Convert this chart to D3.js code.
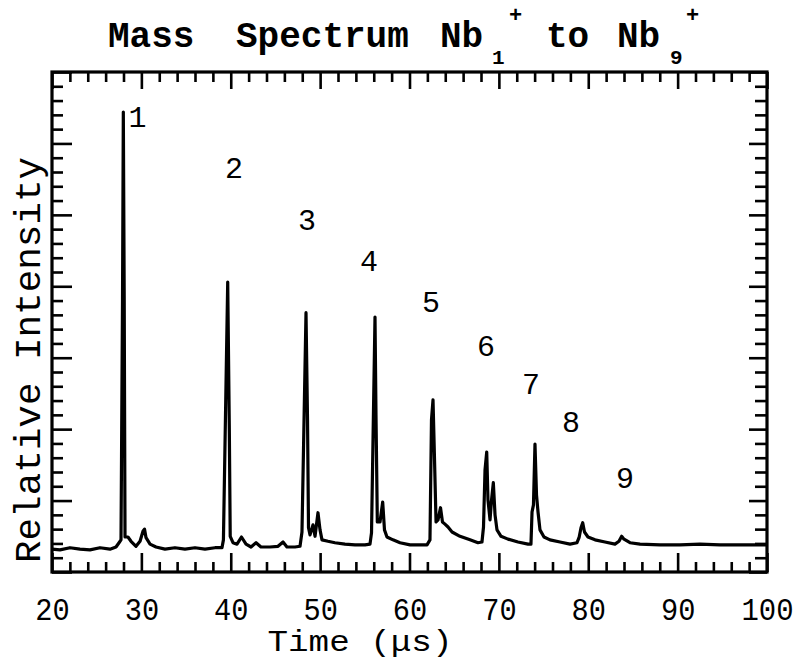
<!DOCTYPE html>
<html>
<head>
<meta charset="utf-8">
<script src="https://cdn.jsdelivr.net/npm/d3@7/dist/d3.min.js"></script>
<style>
  body{margin:0;background:#fff;}
  svg text{font-family:"Courier New","Nimbus Mono PS","FreeMono","Liberation Mono",monospace;fill:#000;}
</style>
</head>
<body>
<div id="canvas"></div>
<script>
//time of flight (us) of each point
var spectrumTime = [20.00,20.90,22.01,23.13,24.25,25.37,26.49,27.16,27.50,27.72,27.89,27.98,28.08,28.17,28.50,28.84,29.40,29.85,30.18,30.35,30.52,30.97,31.64,32.64,33.76,34.88,36.00,37.12,38.24,39.02,
  39.18,39.66,39.84,39.94,40.25,40.70,41.20,41.71,42.27,42.83,43.38,44.39,45.29,45.85,46.29,47.19,47.75,47.97,48.20,48.42,48.59,48.70,48.87,49.20,49.43,49.76,49.99,50.21,50.88,
  51.66,52.78,53.90,55.02,55.58,55.75,56.14,56.25,56.40,56.70,57.00,57.20,57.48,58.15,58.94,60.06,61.17,61.96,62.29,62.46,62.63,62.80,62.97,63.19,63.47,63.69,63.97,64.31,64.76,
  65.65,66.77,67.66,68.11,68.28,68.45,68.64,68.78,69.01,69.18,69.38,69.57,69.79,70.24,71.02,72.14,73.26,73.59,73.71,73.87,74.04,74.21,74.38,74.60,75.05,75.72,76.84,77.96,78.74,78.97,
  79.19,79.38,79.58,79.97,80.76,81.87,82.99,83.44,83.74,84.00,84.67,85.79,88.03,90.27,92.50,94.74,96.98,100.00];
//relative intensity at those times
var spectrumIntensity = [0.32,0.31,0.34,0.32,0.31,0.34,0.32,0.35,0.41,0.45,3.81,6.44,3.81,0.49,0.49,0.43,0.36,0.43,0.57,0.60,0.48,0.39,0.35,0.32,0.34,0.32,0.34,0.32,0.34,0.34,
  0.45,4.06,2.00,0.50,0.41,0.39,0.49,0.39,0.35,0.41,0.35,0.35,0.36,0.42,0.35,0.35,0.36,0.56,2.13,3.63,2.13,0.62,0.52,0.66,0.50,0.83,0.59,0.45,0.43,
  0.41,0.39,0.38,0.38,0.39,0.55,3.57,2.20,0.70,0.70,0.98,0.59,0.49,0.45,0.41,0.38,0.38,0.38,0.45,2.13,2.41,1.57,0.70,0.73,0.90,0.70,0.67,0.63,0.56,
  0.50,0.45,0.41,0.42,0.63,1.43,1.68,1.01,0.73,1.01,1.25,0.80,0.59,0.50,0.46,0.42,0.39,0.39,0.84,0.94,1.79,1.08,0.84,0.59,0.49,0.45,0.42,0.39,0.41,0.48,
  0.62,0.69,0.56,0.49,0.45,0.42,0.39,0.43,0.50,0.46,0.41,0.39,0.38,0.38,0.39,0.38,0.38,0.38];

//cluster size labels and where they sit (time, intensity)
var peakLabels = ["1","2","3","4","5","6","7","8","9"];
var peakLabelTime = [29.57,40.36,48.53,55.47,62.41,68.56,73.59,78.07,84.11];
var peakLabelIntensity = [6.23,5.52,4.79,4.21,3.64,3.02,2.49,1.96,1.18];

//tick labels
var xTickValues = [20,30,40,50,60,70,80,90,100];
var yTickValues = [0,1,2,3,4,5,6,7];

var W = 801, H = 659;
var plot = {left:52, right:767, top:72, bottom:572};

var svg = d3.select("#canvas")
            .append("svg")
            .attr("width", W)
            .attr("height", H);

var xScale = d3.scaleLinear().domain([20,100]).range([plot.left, plot.right]);
var yScale = d3.scaleLinear().domain([0,7]).range([plot.bottom, plot.top]);

//minor ticks every 2 us and every 0.2 intensity units
var xMinor = d3.range(22,100,2).filter(function(d){ return d % 10 !== 0; });
var yMinor = d3.range(1,35).map(function(i){ return i/5; }).filter(function(d){ return Math.abs(d - Math.round(d)) > 1e-6; });

function clean(g){
  g.select(".domain").remove();
  g.selectAll("line").attr("stroke", "#000").attr("stroke-width", 2.6);
  g.selectAll("text").remove();
}

//inward ticks on all four sides
svg.append("g").attr("transform", "translate(0," + plot.bottom + ")")
   .call(d3.axisBottom(xScale).tickValues(xTickValues).tickSize(-19)).call(clean);
svg.append("g").attr("transform", "translate(0," + plot.bottom + ")")
   .call(d3.axisBottom(xScale).tickValues(xMinor).tickSize(-10)).call(clean);
svg.append("g").attr("transform", "translate(0," + plot.top + ")")
   .call(d3.axisTop(xScale).tickValues(xTickValues).tickSize(-17)).call(clean);
svg.append("g").attr("transform", "translate(0," + plot.top + ")")
   .call(d3.axisTop(xScale).tickValues(xMinor).tickSize(-10)).call(clean);
svg.append("g").attr("transform", "translate(" + plot.left + ",0)")
   .call(d3.axisLeft(yScale).tickValues(yTickValues).tickSize(-20)).call(clean);
svg.append("g").attr("transform", "translate(" + plot.left + ",0)")
   .call(d3.axisLeft(yScale).tickValues(yMinor).tickSize(-11)).call(clean);
svg.append("g").attr("transform", "translate(" + plot.right + ",0)")
   .call(d3.axisRight(yScale).tickValues(yTickValues).tickSize(-18)).call(clean);
svg.append("g").attr("transform", "translate(" + plot.right + ",0)")
   .call(d3.axisRight(yScale).tickValues(yMinor).tickSize(-12)).call(clean);

//frame
svg.append("rect")
   .attr("x", plot.left).attr("y", plot.top)
   .attr("width", plot.right - plot.left).attr("height", plot.bottom - plot.top)
   .attr("fill", "none").attr("stroke", "#000").attr("stroke-width", 3.2);

//x tick labels
svg.append("g").attr("transform", "translate(0," + plot.bottom + ")")
   .call(d3.axisBottom(xScale).tickValues(xTickValues).tickSize(0))
   .call(function(g){
     g.select(".domain").remove();
     g.attr("font-family", null);
     g.selectAll("text")
      .attr("y", 48).attr("dy", 0)
      .attr("font-size", 32)
      .attr("fill", "#000")
      .attr("textLength", function(d){ return String(d).length * 17.7 - 1; })
      .attr("lengthAdjust", "spacingAndGlyphs");
   });

//spectrum trace
var points = spectrumTime.map(function(t, i){ return [t, spectrumIntensity[i]]; });
var genLine = d3.line()
  .x(function(d){ return xScale(d[0]); })
  .y(function(d){ return yScale(d[1]); });
svg.append("path")
   .attr("d", genLine(points))
   .attr("fill", "none")
   .attr("stroke", "#000")
   .attr("stroke-width", 3.2)
   .attr("stroke-linejoin", "round");

//peak numbers
svg.selectAll(".peak")
   .data(peakLabels)
   .enter()
   .append("text")
   .attr("class", "peak")
   .attr("x", function(d, i){ return xScale(peakLabelTime[i]); })
   .attr("y", function(d, i){ return yScale(peakLabelIntensity[i]); })
   .attr("text-anchor", "middle")
   .attr("font-size", 30)
   .text(function(d){ return d; });

//axis titles
svg.append("text")
   .attr("transform", "translate(40,360) rotate(-90)")
   .attr("text-anchor", "middle")
   .attr("font-size", 36)
   .attr("textLength", 406)
   .attr("lengthAdjust", "spacingAndGlyphs")
   .text("Relative Intensity");

svg.append("text")
   .attr("x", 360).attr("y", 651)
   .attr("text-anchor", "middle")
   .attr("font-size", 29)
   .attr("textLength", 185)
   .attr("lengthAdjust", "spacingAndGlyphs")
   .text("Time  (\u03bcs)");

//title, built piece by piece like the original lettering
var title = svg.append("g").attr("font-weight", "bold");
var titleParts = [
  {t:"Mass", x:108, y:47, fs:36},
  {t:"Spectrum", x:236, y:47, fs:36},
  {t:"Nb", x:440, y:47, fs:36},
  {t:"1", x:492, y:64, fs:21},
  {t:"+", x:509, y:22, fs:22},
  {t:"to", x:546, y:47, fs:36},
  {t:"Nb", x:617, y:47, fs:36},
  {t:"9", x:670, y:64, fs:21},
  {t:"+", x:686, y:22, fs:22}
];
title.selectAll("text")
     .data(titleParts)
     .enter()
     .append("text")
     .attr("x", function(d){ return d.x; })
     .attr("y", function(d){ return d.y; })
     .attr("font-size", function(d){ return d.fs; })
     .text(function(d){ return d.t; });
</script>
</body>
</html>
